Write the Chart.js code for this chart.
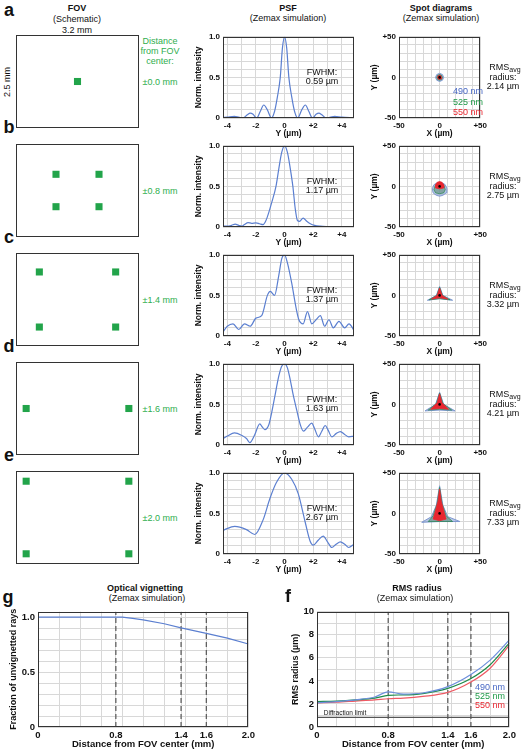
<!DOCTYPE html>
<html>
<head>
<meta charset="utf-8">
<script src="https://cdn.jsdelivr.net/npm/chart.js@4.4.1/dist/chart.umd.min.js"></script>
<style>
  body { margin: 0; width: 522px; height: 750px; position: relative; overflow: hidden; background: #fff;
         font-family: "Liberation Sans", Arial, sans-serif; }
  .t { position: absolute; white-space: nowrap; color: #111; line-height: 1; }
  .fov { position: absolute; border: 1.5px solid #333; box-sizing: border-box; }
  canvas { position: absolute; }
</style>
</head>
<body>
<script>
// ---------- data ----------
const rowTop = [35, 144, 253, 362, 471];
const rowLetters = ['a', 'b', 'c', 'd', 'e'];
const fovDistances = ['±0.0 mm', '±0.8 mm', '±1.4 mm', '±1.6 mm', '±2.0 mm'];

// field positions in the 3.2 x 2.5 mm FOV (mm)
const fovA = [[0, 0]];
const fovB = [[-0.62, 0.5], [0.62, 0.5], [-0.62, -0.5], [0.62, -0.5]];
const fovC = [[-1.1, 0.85], [1.1, 0.85], [-1.1, -0.85], [1.1, -0.85]];
const fovD = [[-1.48, 0], [1.48, 0]];
const fovE = [[-1.48, 1.12], [1.48, 1.12], [-1.48, -1.12], [1.48, -1.12]];

// PSF profiles [Y (um), normalized intensity]
const psfA = [[-4.3, 0.005], [-4, 0.01], [-3.5, 0.02], [-3.2, 0.01], [-2.9, 0.0], [-2.6, 0.04], [-2.4, 0.06], [-2.2, 0.045],
  [-1.95, 0.0], [-1.7, 0.08], [-1.45, 0.16], [-1.2, 0.1], [-0.92, 0.0], [-0.7, 0.08], [-0.5, 0.26], [-0.3, 0.5],
  [-0.15, 0.86], [0, 1.0], [0.15, 0.86], [0.3, 0.5], [0.5, 0.26], [0.7, 0.08], [0.92, 0.0], [1.2, 0.1], [1.45, 0.16],
  [1.7, 0.08], [1.95, 0.0], [2.2, 0.045], [2.4, 0.06], [2.6, 0.04], [2.9, 0.0], [3.2, 0.01], [3.5, 0.02], [4, 0.01], [4.85, 0.005]];
const psfB = [[-4.3, 0.01], [-4, 0.01], [-3.7, 0.02], [-3.45, 0.035], [-3.2, 0.02], [-3.0, 0.01], [-2.8, 0.03], [-2.55, 0.055],
  [-2.3, 0.045], [-2.0, 0.05], [-1.75, 0.04], [-1.5, 0.03], [-1.3, 0.08], [-1.1, 0.18], [-0.9, 0.3], [-0.6, 0.5],
  [-0.4, 0.72], [-0.2, 0.92], [0, 1.0], [0.2, 0.92], [0.4, 0.72], [0.58, 0.5], [0.75, 0.22], [0.9, 0.08], [1.05, 0.07],
  [1.3, 0.11], [1.55, 0.07], [1.8, 0.04], [2.1, 0.02], [2.5, 0.01], [3, 0.005], [4, 0.0], [4.85, 0.0]];
const psfC = [[-4.3, 0.05], [-4, 0.12], [-3.6, 0.15], [-3.2, 0.08], [-2.8, 0.15], [-2.4, 0.12], [-2, 0.22], [-1.6, 0.25],
  [-1.2, 0.5], [-1.0, 0.55], [-0.7, 0.5], [-0.4, 0.75], [-0.2, 0.95], [0, 1.0], [0.2, 0.9], [0.5, 0.65], [0.8, 0.35],
  [1.0, 0.2], [1.3, 0.15], [1.6, 0.3], [1.9, 0.15], [2.2, 0.2], [2.5, 0.25], [2.8, 0.12], [3.1, 0.2], [3.4, 0.1],
  [3.8, 0.18], [4.2, 0.1], [4.5, 0.15], [4.85, 0.07]];
const psfD = [[-4.3, 0.08], [-4.0, 0.11], [-3.5, 0.15], [-3.0, 0.12], [-2.66, 0.08], [-2.43, 0.03], [-2.1, 0.12], [-1.73, 0.26],
  [-1.55, 0.22], [-1.38, 0.19], [-1.1, 0.25], [-0.9, 0.4], [-0.7, 0.58], [-0.4, 0.85], [-0.2, 0.97], [0, 1.0], [0.2, 0.95],
  [0.4, 0.8], [0.6, 0.62], [0.85, 0.43], [1.1, 0.25], [1.32, 0.17], [1.6, 0.22], [1.9, 0.27], [2.1, 0.2], [2.37, 0.1],
  [2.6, 0.17], [2.84, 0.24], [3.05, 0.18], [3.3, 0.1], [3.6, 0.14], [3.9, 0.165], [4.2, 0.13], [4.48, 0.1], [4.85, 0.11]];
const psfE = [[-4.3, 0.29], [-4.18, 0.3], [-3.48, 0.34], [-2.66, 0.3], [-2.08, 0.24], [-1.5, 0.42], [-1.03, 0.68],
  [-0.57, 0.88], [0, 1.0], [0.5, 0.92], [0.96, 0.74], [1.43, 0.4], [1.78, 0.16], [2.0, 0.11], [2.35, 0.17], [2.7, 0.22],
  [3.0, 0.15], [3.3, 0.08], [3.6, 0.12], [3.9, 0.15], [4.2, 0.12], [4.48, 0.08], [4.85, 0.12]];
const fwhm = ['0.59 µm', '1.17 µm', '1.37 µm', '1.63 µm', '2.67 µm'];

// spot diagram outlines per wavelength [X, Y] (um)
const spotBlue = [
  [[5, 0], [3.5, 3.5], [0, 5], [-3.5, 3.5], [-5, 0], [-3.5, -3.5], [0, -5], [3.5, -3.5], [5, 0]],
  [[-9, -3], [-8, -8], [-4, -11], [0, -12], [4, -11], [8, -8], [9, -3], [7, 2], [4, 4], [-4, 4], [-7, 2], [-9, -3]],
  [[0, 11], [-4, 0], [-15, -6], [0, -4], [16, -6], [4, 0], [0, 11]],
  [[0, 15], [-5, 0], [-18, -8], [0, -7], [19, -8], [5, 0], [0, 15]],
  [[0, 34], [-4, 10], [-10, -4], [-22, -11], [0, -10], [25, -10], [10, -4], [4, 10], [0, 34]]
];
const spotGreen = [
  [[3.5, 0], [2.5, 2.5], [0, 3.5], [-2.5, 2.5], [-3.5, 0], [-2.5, -2.5], [0, -3.5], [2.5, -2.5], [3.5, 0]],
  [[-7, -4], [-5, -8], [0, -9], [5, -8], [7, -4], [5, 2], [0, 5], [-5, 2], [-7, -4]],
  [[0, 10], [-3.5, 0], [-13, -5.5], [0, -4], [13, -5.5], [3.5, 0], [0, 10]],
  [[0, 14], [-4, 1], [-14, -7], [0, -6], [15, -7], [4, 1], [0, 14]],
  [[0, 32], [-3, 12], [-8, -3], [-14, -10], [0, -10], [16, -10], [8, -3], [3, 12], [0, 32]]
];
const spotRed = [
  [[2.5, 0], [1.8, 1.8], [0, 2.5], [-1.8, 1.8], [-2.5, 0], [-1.8, -1.8], [0, -2.5], [1.8, -1.8], [2.5, 0]],
  [[-5, -2], [-5, 2], [-3, 5], [0, 6], [3, 5], [5, 2], [5, -2], [0, -3], [-5, -2]],
  [[0, 9], [-3, 0], [-10, -4.5], [0, -3], [10, -4.5], [3, 0], [0, 9]],
  [[0, 13], [-3, 2], [-11, -6], [0, -5], [11, -6], [3, 2], [0, 13]],
  [[0, 30], [-2, 15], [-6, 0], [-8, -7], [0, -9], [8, -7], [6, 0], [2, 15], [0, 30]]
];
const rmsRadius = ['2.14 µm', '2.75 µm', '3.32 µm', '4.21 µm', '7.33 µm'];
const wavelengths = ['490 nm', '525 nm', '550 nm'];

// optical vignetting vs field distance (mm)
const vignX = [0, 0.4, 0.8, 0.9, 1.0, 1.2, 1.36, 1.6, 1.8, 2.0];
const vignY = [1.0, 1.0, 1.0, 0.99, 0.975, 0.94, 0.903, 0.853, 0.81, 0.756];

// RMS radius vs field distance (mm)
const rmsX = [0, 0.2, 0.4, 0.6, 0.74, 0.9, 1.1, 1.36, 1.6, 1.8, 2.0];
const rms490 = [2.1, 2.2, 2.35, 2.6, 3.05, 2.85, 2.95, 3.5, 4.55, 5.8, 7.55];
const rms525 = [2.2, 2.25, 2.35, 2.5, 2.75, 2.78, 2.9, 3.35, 4.2, 5.4, 7.3];
const rms550 = [2.1, 2.15, 2.25, 2.35, 2.45, 2.5, 2.65, 3.0, 3.9, 5.1, 7.1];
const diffractionLimit = 0.84;

// field marks (dashed) and their labels
const fieldMarks = [0.74, 1.36, 1.6];
const fieldTickLabels = [[0, '0'], [0.74, '0.8'], [1.36, '1.4'], [1.6, '1.6'], [2.0, '2.0']];
const fieldGrid = [0.2, 0.4, 0.6, 0.8, 1.0, 1.2, 1.4, 1.8];

// ---------- styling ----------
const FONT = '"Liberation Sans", Arial, sans-serif';
Chart.defaults.font.family = FONT;
Chart.defaults.color = '#111';
Chart.defaults.animation = false;
Chart.defaults.plugins.legend.display = false;
Chart.defaults.plugins.tooltip.enabled = false;

const GREEN_TXT = '#2fae4e';
const BLUE = '#4868c4', GREEN = '#1f9a48', RED = '#e8262f';
const gridColor = '#d8d8d8';
const psfColor = '#5b7fd0';

const frame = {
  id: 'frame',
  afterDatasetsDraw(c) {
    const a = c.chartArea, x = c.ctx;
    x.save();
    x.strokeStyle = '#333';
    x.lineWidth = 1;
    x.strokeRect(Math.round(a.left) + 0.5, Math.round(a.top) + 0.5, Math.round(a.width) - 1, Math.round(a.height) - 1);
    x.restore();
  }
};

function canvasAt(left, top, w, h) {
  const c = document.createElement('canvas');
  c.width = w; c.height = h;
  c.style.left = left + 'px'; c.style.top = top + 'px';
  c.style.width = w + 'px'; c.style.height = h + 'px';
  document.body.appendChild(c);
  return c;
}

function text(str, x, y, opt = {}) {
  const d = document.createElement('div');
  d.className = 't';
  d.innerHTML = str;
  d.style.left = x + 'px';
  d.style.top = y + 'px';
  d.style.fontSize = (opt.size || 9) + 'px';
  if (opt.bold) d.style.fontWeight = 'bold';
  if (opt.color) d.style.color = opt.color;
  d.style.transform = 'translate(-50%,-50%)' + (opt.rot ? ' rotate(-90deg)' : '');
  document.body.appendChild(d);
}

const pts = arr => arr.map(p => ({ x: p[0], y: p[1] }));
const near = (a, b) => Math.abs(a - b) < 1e-6;
const tickFont = { size: 8, weight: 'bold' };

// ---------- headers ----------
text('FOV', 77, 8, { bold: true });
text('(Schematic)', 77, 19);
text('3.2 mm', 77, 30);
text('2.5 mm', 7, 82, { rot: true });
text('Distance', 160, 41, { color: GREEN_TXT });
text('from FOV', 160, 51, { color: GREEN_TXT });
text('center:', 160, 61, { color: GREEN_TXT });
text('PSF', 288, 8, { bold: true });
text('(Zemax simulation)', 288, 18);
text('Spot diagrams', 441, 8, { bold: true });
text('(Zemax simulation)', 441, 18);

// ---------- rows ----------
const fovRows = [fovA, fovB, fovC, fovD, fovE];
const psfRows = [psfA, psfB, psfC, psfD, psfE];
const letterY = [10, 127, 237, 346, 455];

rowTop.forEach((top, r) => {
  text(rowLetters[r], 9, letterY[r], { bold: true, size: 18 });
  text(fovDistances[r], 160, top + 47, { color: GREEN_TXT });

  // FOV schematic
  const box = document.createElement('div');
  box.className = 'fov';
  box.style.left = '16px'; box.style.top = top + 'px';
  box.style.width = '123px'; box.style.height = '93px';
  document.body.appendChild(box);
  new Chart(canvasAt(17, top + 1, 121, 91), {
    type: 'scatter',
    data: { datasets: [{ data: pts(fovRows[r]), pointStyle: 'rect', pointRadius: 5, backgroundColor: '#22a44a', borderWidth: 0 }] },
    options: {
      responsive: false,
      layout: { padding: 0 },
      scales: { x: { display: false, min: -1.6, max: 1.6 }, y: { display: false, min: -1.25, max: 1.25 } }
    }
  });

  // PSF
  new Chart(canvasAt(194, top - 6, 166, 110), {
    type: 'line',
    data: { datasets: [{ data: pts(psfRows[r]), borderColor: psfColor, borderWidth: 1.2, pointRadius: 0, cubicInterpolationMode: 'monotone' }] },
    options: {
      responsive: false,
      layout: { padding: { top: 6, right: 6 } },
      scales: {
        x: {
          type: 'linear', min: -4.3, max: 4.85,
          afterFit: s => { s.height = 21; },
          grid: { color: gridColor, drawTicks: false }, border: { display: false },
          ticks: { stepSize: 1, includeBounds: false, padding: 3, font: tickFont, autoSkip: false, maxRotation: 0,
                   callback: v => (v % 2 === 0 ? (v > 0 ? '+' + v : String(v)) : '') },
          title: { display: true, text: 'Y (µm)', font: { size: 8.5, weight: 'bold' }, padding: 0 }
        },
        y: {
          min: 0, max: 1,
          afterFit: s => { s.width = 29; },
          grid: { color: gridColor, drawTicks: false }, border: { display: false },
          ticks: { stepSize: 0.1, padding: 3, font: tickFont, autoSkip: false,
                   callback: v => (near(v, 0) ? '0' : near(v, 0.5) ? '0.5' : near(v, 1) ? '1.0' : '') },
          title: { display: true, text: 'Norm. intensity', font: { size: 8.5, weight: 'bold' }, padding: 0 }
        }
      }
    },
    plugins: [frame]
  });
  text('FWHM:', 322, top + 37);
  text(fwhm[r], 322, top + 46);

  // spot diagram (lower order is drawn on top)
  new Chart(canvasAt(370, top - 6, 120, 110), {
    type: 'scatter',
    data: {
      datasets: [
        { order: 3, data: pts(spotBlue[r]), showLine: true, fill: 'shape', borderColor: '#7f98cf', borderWidth: 1, backgroundColor: 'rgba(140,165,215,0.6)', pointRadius: 0 },
        { order: 2, data: pts(spotGreen[r]), showLine: true, fill: 'shape', borderColor: 'rgba(30,130,70,0.8)', borderWidth: 0.8, backgroundColor: 'rgba(95,140,120,0.6)', pointRadius: 0 },
        { order: 1, data: pts(spotRed[r]), showLine: true, fill: 'shape', borderColor: RED, borderWidth: 0.8, backgroundColor: RED, pointRadius: 0 },
        { order: 0, data: [{ x: 0, y: 0 }], pointRadius: 1.3, backgroundColor: '#000', borderWidth: 0 }
      ]
    },
    options: {
      responsive: false,
      layout: { padding: { top: 6, right: 6 } },
      scales: {
        x: {
          min: -50, max: 50,
          afterFit: s => { s.height = 21; },
          grid: { color: gridColor, drawTicks: false }, border: { display: false },
          ticks: { stepSize: 10, padding: 3, font: tickFont, autoSkip: false, maxRotation: 0,
                   callback: v => (v === -50 ? '-50' : v === 0 ? '0' : v === 50 ? '+50' : '') },
          title: { display: true, text: 'X (µm)', font: { size: 8.5, weight: 'bold' }, padding: 0 }
        },
        y: {
          min: -50, max: 50,
          afterFit: s => { s.width = 29; },
          grid: { color: gridColor, drawTicks: false }, border: { display: false },
          ticks: { stepSize: 10, padding: 3, font: tickFont, autoSkip: false,
                   callback: v => (v === -50 ? '-50' : v === 0 ? '0' : v === 50 ? '+50' : '') },
          title: { display: true, text: 'Y (µm)', font: { size: 8.5, weight: 'bold' }, padding: 0 }
        }
      }
    },
    plugins: [frame]
  });
  text('RMS<sub style="font-size:7px;vertical-align:-2px">avg</sub>', 505, top + 33);
  text('radius:', 503, top + 42);
  text(rmsRadius[r], 503, top + 51);
});

// spot legend (row a)
text(wavelengths[0], 468, 91, { color: BLUE });
text(wavelengths[1], 468, 102, { color: GREEN });
text(wavelengths[2], 468, 112, { color: RED });

// ---------- bottom charts ----------
function fieldAxis() {
  return {
    type: 'linear', min: 0, max: 2,
    afterFit: s => { s.height = 23; },
    afterBuildTicks: s => {
      const vals = [0, 2].concat(fieldGrid, fieldMarks);
      s.ticks = [...new Set(vals)].sort((a, b) => a - b).map(v => ({ value: v }));
    },
    grid: { color: gridColor, drawTicks: false }, border: { display: false },
    ticks: { padding: 3, font: { size: 9.5, weight: 'bold' }, autoSkip: false, maxRotation: 0,
             callback: v => { const f = fieldTickLabels.find(l => near(l[0], v)); return f ? f[1] : ''; } },
    title: { display: true, text: 'Distance from FOV center (mm)', font: { size: 9.5, weight: 'bold' }, padding: 0 }
  };
}
function markLines(yMax) {
  return fieldMarks.map(m => ({
    type: 'line', data: [{ x: m, y: 0 }, { x: m, y: yMax }], borderColor: '#555', borderWidth: 1.2,
    borderDash: [5, 3], pointRadius: 0
  }));
}

text('g', 8, 597, { bold: true, size: 18 });
text('Optical vignetting', 145, 588, { bold: true });
text('(Zemax simulation)', 147, 598);
new Chart(canvasAt(8, 603, 250, 147), {
  type: 'line',
  data: {
    datasets: [{ data: vignX.map((x, i) => ({ x, y: vignY[i] })), borderColor: psfColor, borderWidth: 1.2, pointRadius: 0 }]
      .concat(markLines(1.05))
  },
  options: {
    responsive: false,
    layout: { padding: { top: 4, right: 6 } },
    scales: {
      x: fieldAxis(),
      y: {
        min: 0, max: 1.05,
        afterFit: s => { s.width = 30; },
        grid: { color: gridColor, drawTicks: false }, border: { display: false },
        afterBuildTicks: s => { s.ticks = [0, 0.1, 0.2, 0.3, 0.4, 0.5, 0.6, 0.7, 0.8, 0.9, 1.0].map(v => ({ value: v })); },
        ticks: { padding: 3, font: { size: 9.5, weight: 'bold' }, autoSkip: false,
                 callback: v => (near(v, 0) ? '0' : near(v, 0.5) ? '0.5' : near(v, 1) ? '1.0' : '') },
        title: { display: true, text: 'Fraction of unvignetted rays', font: { size: 9, weight: 'bold' }, padding: 0 }
      }
    }
  },
  plugins: [frame]
});

text('f', 288, 596, { bold: true, size: 18 });
text('RMS radius', 417, 588, { bold: true });
text('(Zemax simulation)', 415, 598);
new Chart(canvasAt(290, 603, 229, 147), {
  type: 'line',
  data: {
    datasets: [
      { data: rmsX.map((x, i) => ({ x, y: rms490[i] })), borderColor: '#6d8fdc', borderWidth: 1.2, pointRadius: 0, cubicInterpolationMode: 'monotone' },
      { data: rmsX.map((x, i) => ({ x, y: rms525[i] })), borderColor: '#1e8a4a', borderWidth: 1.2, pointRadius: 0, cubicInterpolationMode: 'monotone' },
      { data: rmsX.map((x, i) => ({ x, y: rms550[i] })), borderColor: '#ee5a64', borderWidth: 1.2, pointRadius: 0, cubicInterpolationMode: 'monotone' },
      { data: [{ x: 0, y: diffractionLimit }, { x: 2, y: diffractionLimit }], borderColor: '#555', borderWidth: 1.2, pointRadius: 0 }
    ].concat(markLines(10))
  },
  options: {
    responsive: false,
    layout: { padding: { top: 4, right: 6 } },
    scales: {
      x: fieldAxis(),
      y: {
        min: 0, max: 10,
        afterFit: s => { s.width = 27; },
        grid: { color: gridColor, drawTicks: false }, border: { display: false },
        ticks: { stepSize: 1, padding: 3, font: { size: 9.5, weight: 'bold' }, autoSkip: false,
                 callback: v => (v % 2 === 0 ? String(v) : '') },
        title: { display: true, text: 'RMS radius (µm)', font: { size: 9, weight: 'bold' }, padding: 0 }
      }
    }
  },
  plugins: [frame]
});
text('Diffraction limit', 345, 713, { size: 6.5 });
text(wavelengths[0], 490, 687, { color: BLUE });
text(wavelengths[1], 490, 696, { color: GREEN });
text(wavelengths[2], 490, 705, { color: RED });
</script>
</body>
</html>
